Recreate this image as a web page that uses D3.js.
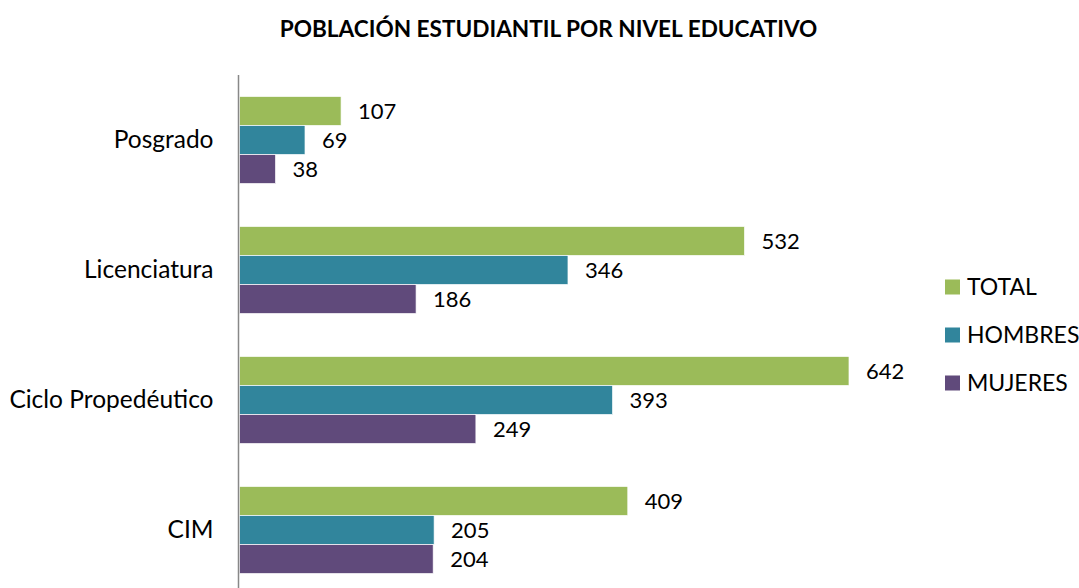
<!DOCTYPE html>
<html>
<head>
<meta charset="utf-8">
<script src="https://cdn.jsdelivr.net/npm/d3@7"></script>
<style>
  body { margin: 0; background: #fff; }
  text { font-family: Lato, "Open Sans", sans-serif; }
</style>
</head>
<body>
<div id="chart"></div>
<script>
// Población estudiantil
const niveles = ['Posgrado', 'Licenciatura', 'Ciclo Propedéutico', 'CIM'];
const series = ['TOTAL', 'HOMBRES', 'MUJERES'];
const total = [107, 532, 642, 409];
const hombres = [69, 346, 393, 205];
const mujeres = [38, 186, 249, 204];
const colores = ['#9BBB59', '#31859C', '#604A7B'];

const width = 1079, height = 588;
const margin = { top: 75, left: 238.5 };

const data = niveles.map((n, i) => ({
  nivel: n,
  values: [total[i], hombres[i], mujeres[i]]
}));

const svg = d3.select('#chart').append('svg')
  .attr('width', width)
  .attr('height', height);

svg.append('text')
  .attr('x', 548.5)
  .attr('y', 37)
  .attr('text-anchor', 'middle')
  .attr('font-size', '22.6px')
  .attr('font-weight', 'bold')
  .text('POBLACIÓN ESTUDIANTIL POR NIVEL EDUCATIVO');

const x = d3.scaleLinear()
  .domain([0, 642])
  .range([margin.left, 848]);

const y = d3.scaleBand()
  .domain(niveles)
  .range([margin.top, margin.top + 520])
  .paddingInner(0.33)
  .paddingOuter(0.165);

const ySub = d3.scaleBand()
  .domain(series)
  .range([0, y.bandwidth()]);

const groups = svg.append('g')
  .selectAll('g')
  .data(data)
  .join('g')
  .attr('transform', d => `translate(0,${y(d.nivel)})`);

groups.selectAll('rect')
  .data(d => d.values)
  .join('rect')
  .attr('x', x(0) + 1)
  .attr('y', (d, i) => ySub(series[i]))
  .attr('width', d => x(d) - x(0))
  .attr('height', ySub.bandwidth())
  .attr('fill', (d, i) => colores[i])
  .attr('stroke', '#fff')
  .attr('stroke-width', 0.7);

groups.selectAll('text.val')
  .data(d => d.values)
  .join('text')
  .attr('class', 'val')
  .attr('x', d => x(d) + 18)
  .attr('y', (d, i) => ySub(series[i]) + ySub.bandwidth() / 2)
  .attr('dy', '0.36em')
  .attr('font-size', '22px')
  .attr('fill', '#000')
  .text(d => d);

// eje vertical
const yAxis = g => g
  .attr('transform', `translate(${margin.left},0)`)
  .call(d3.axisLeft(y).tickSize(0).tickPadding(25))
  .call(g => g.select('.domain').attr('stroke', '#888').attr('stroke-width', 1.5)
    .attr('d', `M0,${margin.top}V${height + 10}`))
  .call(g => g.selectAll('text').attr('font-size', '24.5px').attr('fill', '#000')
    .attr('font-family', 'Lato, "Open Sans", sans-serif'));

svg.append('g').call(yAxis);

// leyenda
const legend = svg.append('g')
  .attr('transform', 'translate(945,287)')
  .selectAll('g')
  .data(series)
  .join('g')
  .attr('transform', (d, i) => `translate(0,${i * 48})`);

legend.append('rect')
  .attr('x', 0)
  .attr('y', -7.5)
  .attr('width', 15)
  .attr('height', 15)
  .attr('fill', (d, i) => colores[i]);

legend.append('text')
  .attr('x', 22)
  .attr('dy', '0.36em')
  .attr('font-size', '23px')
  .text(d => d);
</script>
</body>
</html>
